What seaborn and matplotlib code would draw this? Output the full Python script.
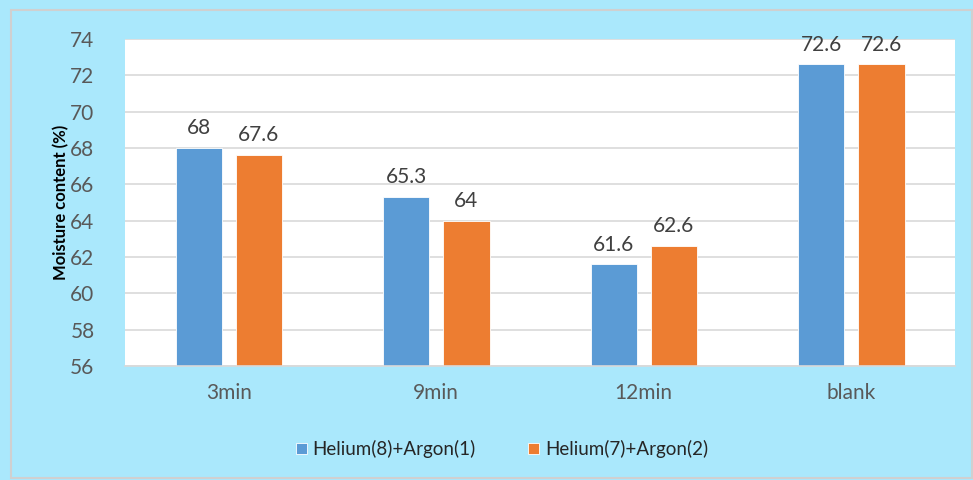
"""
Moisture content bar chart
"""

import matplotlib.pyplot as plt
import pandas as pd
import seaborn as sns

categories = ["3min", "9min", "12min", "blank"]
series_names = ["Helium(8)+Argon(1)", "Helium(7)+Argon(2)"]
helium8_argon1 = [68, 65.3, 61.6, 72.6]
helium7_argon2 = [67.6, 64, 62.6, 72.6]
y_ticks = [56, 58, 60, 62, 64, 66, 68, 70, 72, 74]

df = pd.DataFrame({
    "time": categories * 2,
    "series": [series_names[0]] * 4 + [series_names[1]] * 4,
    "value": helium8_argon1 + helium7_argon2,
})

sns.set_style("white")
plt.rcParams["font.family"] = ["Lato", "DejaVu Sans"]

bg = "#aae8fc"
fig = plt.figure(figsize=(9.73, 4.8), dpi=100, facecolor=bg)
ax = fig.add_axes([0.1285, 0.2375, 0.853, 0.6815])
ax.set_facecolor("white")

sns.barplot(data=df, x="time", y="value", hue="series",
            palette=["#5b9bd5", "#ed7d31"], saturation=1, width=0.58, gap=0.23,
            edgecolor="white", linewidth=0.6, ax=ax, legend=True)

# bars start from the bottom of the axis, not zero
ax.set_ylim(56, 74)
ax.set_yticks(y_ticks)
ax.yaxis.grid(True, color="#d9d9d9", linewidth=1.2)
ax.set_axisbelow(True)
for side in ["top", "right", "left"]:
    ax.spines[side].set_visible(False)
ax.spines["bottom"].set_color("#d9d9d9")
ax.spines["bottom"].set_linewidth(1.2)

ax.tick_params(axis="both", length=0, labelsize=15, labelcolor="#595959")
ax.tick_params(axis="x", pad=12)
ax.tick_params(axis="y", pad=22)
ax.set_xlabel("")
ax.set_ylabel("Moisture content (%)", fontsize=12, fontweight="bold",
              color="black", labelpad=1)

for c in ax.containers:
    ax.bar_label(c, labels=[f"{v:g}" for v in c.datavalues],
                 padding=7, fontsize=15, color="#404040")

ax.legend(loc="center", bbox_to_anchor=(0.454, -0.254), ncol=2, frameon=False,
          fontsize=13.5, handlelength=0.6, handleheight=0.6, columnspacing=2.8,
          handletextpad=0.3)

# light frame around the chart area
fig.patches.append(plt.Rectangle((0.011, 0.004), 0.988, 0.976,
                                 transform=fig.transFigure, fill=False,
                                 edgecolor="#d0d0d0", linewidth=1.5))

fig.savefig("out.png", dpi=100, facecolor=bg)
